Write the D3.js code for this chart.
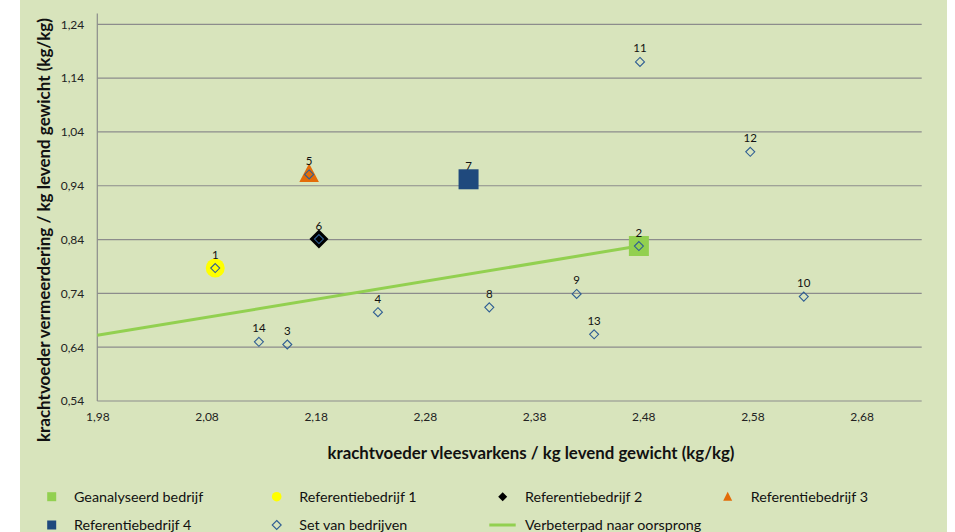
<!DOCTYPE html>
<html><head><meta charset="utf-8">
<script src="https://cdn.jsdelivr.net/npm/d3@7"></script>
<style>body{margin:0;background:#fff}svg{display:block}</style>
</head><body><svg id="c" width="955" height="532"></svg>
<script>
// ---- data ----
const setLabels = ["1","2","3","4","5","6","7","8","9","10","11","12","13","14"];
const setX = [2.088, 2.476, 2.154, 2.237, 2.174, 2.183, 2.320, 2.339, 2.419, 2.627, 2.477, 2.578, 2.435, 2.128];
const setY = [0.787, 0.828, 0.645, 0.705, 0.961, 0.841, 0.952, 0.714, 0.739, 0.734, 1.170, 1.003, 0.664, 0.650];
const geanalyseerd = [2.476, 0.828];
const ref1 = [2.088, 0.787];
const ref2 = [2.183, 0.841];
const ref3 = [2.174, 0.961];
const ref4 = [2.320, 0.952];
const pathX = [1.98, 2.476];
const pathY = [0.662, 0.828];
const xTicks = [1.98, 2.08, 2.18, 2.28, 2.38, 2.48, 2.58, 2.68];
const yTicks = [0.54, 0.64, 0.74, 0.84, 0.94, 1.04, 1.14, 1.24];
const xTitle = "krachtvoeder vleesvarkens / kg levend gewicht (kg/kg)";
const yTitle = "krachtvoeder vermeerdering / kg levend gewicht (kg/kg)";
const legendItems = [
  {name:"Geanalyseerd bedrijf", type:"square", color:"#92D050"},
  {name:"Referentiebedrijf 1", type:"circle", color:"#FFFF00"},
  {name:"Referentiebedrijf 2", type:"diamond", color:"#000000"},
  {name:"Referentiebedrijf 3", type:"triangle", color:"#E36C09"},
  {name:"Referentiebedrijf 4", type:"square", color:"#1F497D"},
  {name:"Set van bedrijven", type:"odiamond", color:"#2F5E93"},
  {name:"Verbeterpad naar oorsprong", type:"line", color:"#92D050"}
];

// ---- chart ----
const font = "Lato, 'Open Sans', sans-serif";
const svg = d3.select("#c");
svg.append("rect").attr("x",20).attr("y",0).attr("width",927).attr("height",532).attr("fill","#D8E4BC");

const x = d3.scaleLinear().domain([1.98, 2.735]).range([97.3, 921.7]);
const y = d3.scaleLinear().domain([0.54, 1.24]).range([401, 24.3]);
const fmt = v => d3.format(".2f")(v).replace(".", ",");

// gridlines
const g = svg.append("g");
g.selectAll("line.grid").data(yTicks).join("line")
  .attr("x1", x(1.98)).attr("x2", x(2.735))
  .attr("y1", d=>y(d)).attr("y2", d=>y(d))
  .attr("stroke", "#8C8C8C").attr("stroke-width", 1.2);
// y axis line
g.append("line").attr("x1", x(1.98)).attr("x2", x(1.98)).attr("y1", y(1.26)).attr("y2", y(0.54))
  .attr("stroke", "#8C8C8C").attr("stroke-width", 1.2);

// axes tick labels via d3 axes
const yAxis = d3.axisLeft(y).tickValues(yTicks).tickFormat(fmt).tickSize(0).tickPadding(13);
svg.append("g").attr("transform", `translate(${x(1.98)},0)`).call(yAxis)
  .call(s=>s.select(".domain").remove())
  .selectAll("text").attr("font-family", font).attr("font-size", 12).attr("fill", "#222");
const xAxis = d3.axisBottom(x).tickValues(xTicks).tickFormat(fmt).tickSize(0).tickPadding(11);
svg.append("g").attr("transform", `translate(0,${y(0.54)})`).call(xAxis)
  .call(s=>s.select(".domain").remove())
  .selectAll("text").attr("font-family", font).attr("font-size", 12).attr("fill", "#222");

// titles
svg.append("text").attr("x", 531).attr("y", 459).attr("text-anchor","middle")
  .attr("font-family", font).attr("font-weight","bold").attr("font-size", 16.5).attr("fill","#111")
  .attr("textLength", 407).attr("lengthAdjust","spacingAndGlyphs")
  .text(xTitle);
svg.append("text").attr("transform","translate(50,230) rotate(-90)").attr("text-anchor","middle")
  .attr("font-family", font).attr("font-weight","bold").attr("font-size", 16.5).attr("fill","#111")
  .attr("textLength", 424).attr("lengthAdjust","spacingAndGlyphs")
  .text(yTitle);

// improvement path
svg.append("path").datum(pathX.map((v,i)=>[v, pathY[i]]))
  .attr("d", d3.line().x(d=>x(d[0])).y(d=>y(d[1])))
  .attr("fill","none").attr("stroke","#92D050").attr("stroke-width",3);

const sym = (type, size) => d3.symbol().type(type).size(size)();
// big markers
svg.append("path").attr("d", sym(d3.symbolSquare, 400))
  .attr("transform", `translate(${x(geanalyseerd[0])},${y(geanalyseerd[1])})`).attr("fill","#92D050");
svg.append("circle").attr("cx", x(ref1[0])).attr("cy", y(ref1[1])).attr("r", 9.5).attr("fill","#FFFF00");
svg.append("path").attr("d", "M0,-9.5L9.5,0L0,9.5L-9.5,0Z")
  .attr("transform", `translate(${x(ref2[0])},${y(ref2[1])})`).attr("fill","#000");
svg.append("path").attr("d", "M0,-11L9.8,7.5L-9.8,7.5Z")
  .attr("transform", `translate(${x(ref3[0])},${y(ref3[1])})`).attr("fill","#E36C09");

// set of companies
const pts = setX.map((v,i)=>({x:v, y:setY[i], label:setLabels[i]}));
svg.append("g").selectAll("path").data(pts).join("path")
  .attr("d", "M0,-4.5L4.5,0L0,4.5L-4.5,0Z")
  .attr("transform", d=>`translate(${x(d.x)},${y(d.y)})`)
  .attr("fill","none").attr("stroke","#2F5E93").attr("stroke-width",1.1);
svg.append("g").selectAll("text").data(pts).join("text")
  .attr("x", d=>x(d.x)).attr("y", d=>y(d.y)-9.5).attr("text-anchor","middle")
  .attr("font-family", font).attr("font-size", 11.5).attr("fill","#111")
  .text(d=>d.label);

// ref 4 square on top
svg.append("path").attr("d", sym(d3.symbolSquare, 400))
  .attr("transform", `translate(${x(ref4[0])},${y(ref4[1])})`).attr("fill","#1F497D");

// legend
const legPos = [[51.7,496.7,74],[276.7,496.7,299.3],[502.7,496.7,525],[727.7,496.7,750.7],
                [51.7,525,74],[276.7,525,299.3],[502.7,525,525]];
const leg = svg.append("g");
legendItems.forEach((it,i)=>{
  const [mx,my,tx] = legPos[i];
  const gg = leg.append("g");
  if (it.type==="square") gg.append("rect").attr("x",mx-4.5).attr("y",my-4.5).attr("width",9).attr("height",9).attr("fill",it.color);
  else if (it.type==="circle") gg.append("circle").attr("cx",mx).attr("cy",my).attr("r",4.8).attr("fill",it.color);
  else if (it.type==="diamond") gg.append("path").attr("d",`M${mx},${my-4.5}L${mx+4.5},${my}L${mx},${my+4.5}L${mx-4.5},${my}Z`).attr("fill",it.color);
  else if (it.type==="triangle") gg.append("path").attr("d",`M${mx},${my-5}L${mx+4.5},${my+4}L${mx-4.5},${my+4}Z`).attr("fill",it.color);
  else if (it.type==="odiamond") gg.append("path").attr("d",`M${mx},${my-4.5}L${mx+4.5},${my}L${mx},${my+4.5}L${mx-4.5},${my}Z`).attr("fill","none").attr("stroke",it.color).attr("stroke-width",1.1);
  else if (it.type==="line") gg.append("line").attr("x1",489.3).attr("x2",515.7).attr("y1",my).attr("y2",my).attr("stroke",it.color).attr("stroke-width",3);
  gg.append("text").attr("x",tx).attr("y",my+5).attr("font-family",font).attr("font-size",14.3).attr("fill","#111").text(it.name);
});
</script></body></html>
